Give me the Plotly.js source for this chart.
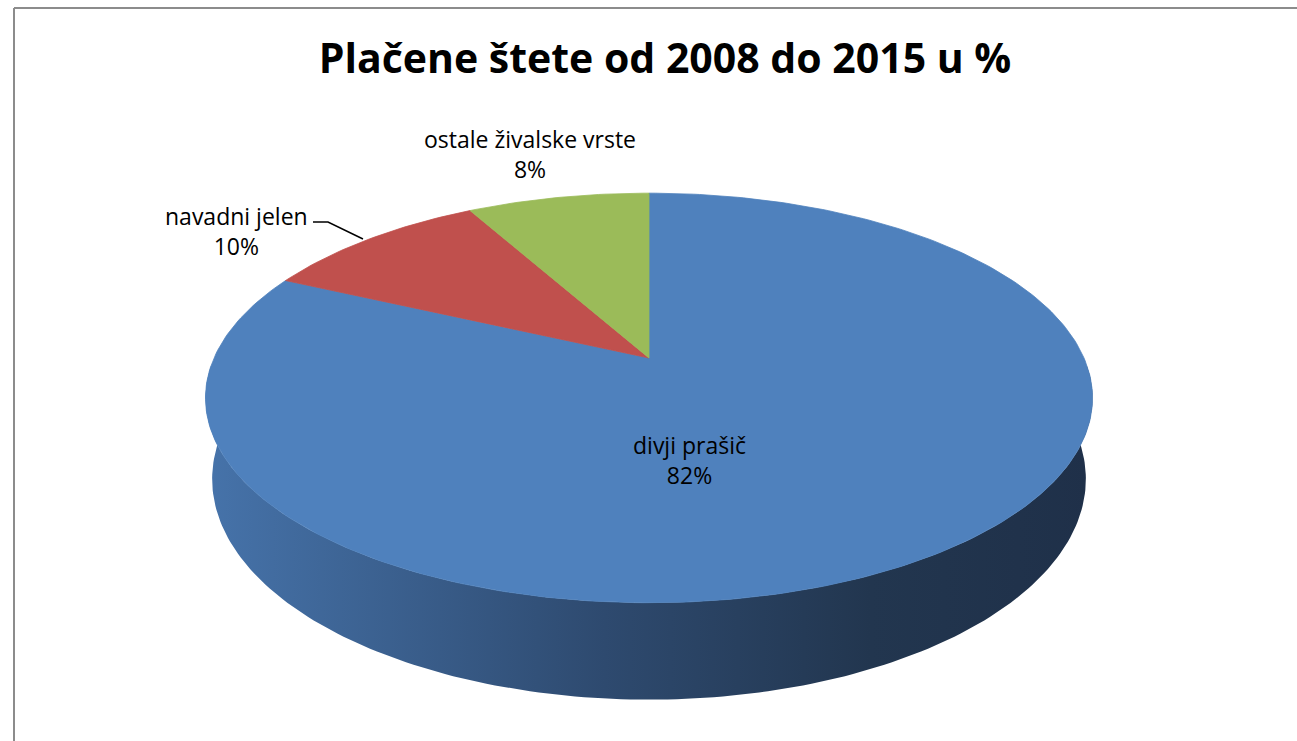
<!DOCTYPE html>
<html>
<head>
<meta charset="utf-8">
<script src="https://cdn.plot.ly/plotly-3.0.1.min.js"></script>
<style>html,body{margin:0;padding:0;background:#fff;}#chart{width:1297px;height:741px;}</style>
</head>
<body>
<div id="chart"></div>
<script>
// ---- data ----
const chartTitle = "Plačene štete od 2008 do 2015 u %";
const categories = ["divji prašič", "navadni jelen", "ostale živalske vrste"];
const values = [82, 10, 8];
const sliceColors = ["#4f81bd", "#c0504d", "#9bbb59"];

// ---- geometry (layout only) ----
const W = 1297, Hh = 741;
const cx = 649, cy = 358;      // pie apex (pixel-like axis units)
const R = 435, Ry = 197, k = 0.195; // perspective ellipse
const depth = 78, Rb = 0.985;  // side thickness & bottom scale
const labelPos = [[689, 460], [236, 231], [530, 154]];

function topPt(phiDeg) {
  const p = phiDeg * Math.PI / 180, u = Math.sin(p), v = Math.cos(p), s = 1 / (1 + k * v);
  return [cx + R * u * s, cy - Ry * v * s];
}
function bottomPt(phiDeg) {
  const p = phiDeg * Math.PI / 180, u = Math.sin(p), v = Math.cos(p), s = 1 / (1 + k * v);
  return [cx + R * Rb * u * s, cy - Ry * v * s + depth * s];
}

const traces = [];
// side wall
{
  const xs = [], ys = [];
  for (let a = 92; a <= 268; a += 1) { const p = topPt(a); xs.push(p[0]); ys.push(p[1]); }
  for (let a = 268; a >= 92; a -= 1) { const p = bottomPt(a); xs.push(p[0]); ys.push(p[1]); }
  xs.push(xs[0]); ys.push(ys[0]);
  traces.push({
    type: "scatter", mode: "lines", x: xs, y: ys, fill: "toself",
    line: {width: 0, color: "rgba(0,0,0,0)"},
    fillgradient: {type: "horizontal", colorscale: [[0, "#4673aa"], [0.45, "#2e4a6f"], [0.75, "#22364f"], [1, "#1f3049"]]},
    hoverinfo: "skip", showlegend: false
  });
}
// top face slices (clockwise from 12 o'clock)
const total = values.reduce((a, b) => a + b, 0);
let start = 0;
values.forEach((val, i) => {
  const span = 360 * val / total;
  const xs = [cx], ys = [cy];
  const n = Math.max(4, Math.ceil(span));
  for (let j = 0; j <= n; j++) { const p = topPt(start + span * j / n); xs.push(p[0]); ys.push(p[1]); }
  xs.push(cx); ys.push(cy);
  traces.push({
    type: "scatter", mode: "lines", x: xs, y: ys, fill: "toself",
    fillcolor: sliceColors[i], line: {width: 0.8, color: sliceColors[i]},
    name: categories[i], hoverinfo: "skip", showlegend: false
  });
  start += span;
});

const annotations = categories.map((c, i) => ({
  x: labelPos[i][0], y: labelPos[i][1], xref: "x", yref: "y",
  text: c + "<br>" + Math.round(100 * values[i] / total) + "%",
  showarrow: false, align: "center",
  font: {family: "Open Sans, Liberation Sans, sans-serif", size: 23, color: "#000"}
}));

const layout = {
  width: W, height: Hh,
  margin: {l: 0, r: 0, t: 0, b: 0},
  paper_bgcolor: "#fff", plot_bgcolor: "#fff",
  showlegend: false,
  title: {
    text: "<b>" + chartTitle + "</b>",
    x: 665 / W, xanchor: "center", y: 1 - 59 / Hh, yanchor: "middle",
    font: {family: "Open Sans, Liberation Sans, sans-serif", size: 41, color: "#000"}
  },
  xaxis: {range: [0, W], visible: false, fixedrange: true},
  yaxis: {range: [Hh, 0], visible: false, fixedrange: true},
  annotations: annotations,
  shapes: [
    {type: "line", xref: "x", yref: "y", x0: 14, y0: 8, x1: 1297, y1: 8,
     line: {color: "#8c8c8c", width: 2}, layer: "below"},
    {type: "line", xref: "x", yref: "y", x0: 14, y0: 8, x1: 14, y1: 741,
     line: {color: "#8c8c8c", width: 2}, layer: "below"},
    {type: "path", xref: "x", yref: "y", path: "M 313 222 L 328 222 L 363 239",
     line: {color: "#000", width: 1.5}}
  ]
};

Plotly.newPlot("chart", traces, layout, {displayModeBar: false, staticPlot: true});
</script>
</body>
</html>
